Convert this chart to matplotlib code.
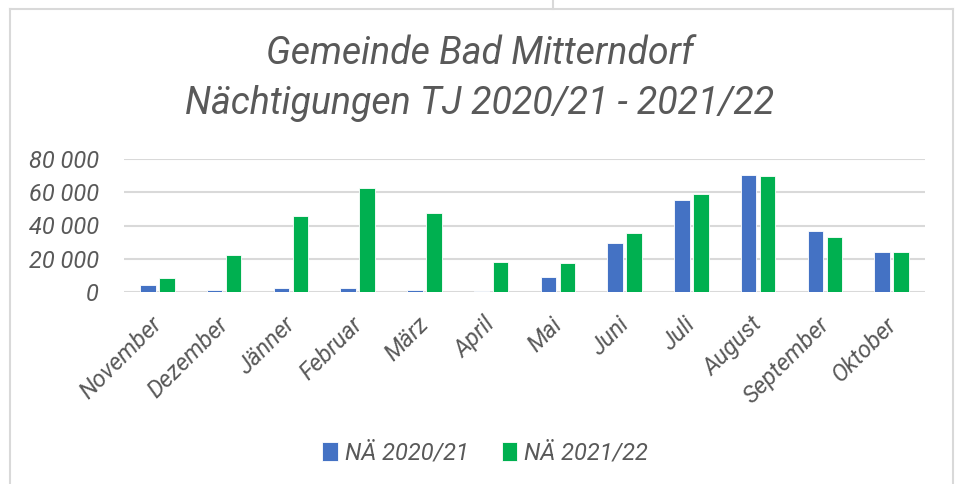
import matplotlib.pyplot as plt
import numpy as np
from matplotlib.ticker import FuncFormatter
from matplotlib.lines import Line2D
from matplotlib.transforms import ScaledTranslation

months = ["November", "Dezember", "Jänner", "Februar", "März", "April",
          "Mai", "Juni", "Juli", "August", "September", "Oktober"]
na_2020_21 = [4000, 1400, 2400, 2200, 1200, 600, 8800, 29400, 55300, 70200, 36600, 24300]
na_2021_22 = [8200, 22500, 46000, 62300, 47400, 17900, 17500, 35200, 59100, 70000, 32800, 23900]
series_names = ["NÄ 2020/21", "NÄ 2021/22"]

txt = "#595959"
plt.rcParams["font.family"] = ["Roboto", "DejaVu Sans"]
plt.rcParams["font.style"] = "italic"

fig = plt.figure(figsize=(9.6, 4.84), dpi=100)
ax = fig.add_axes([124/960, 1-292/484, (925-124)/960, (292-159)/484])

x = np.arange(len(months))
off = 0.142
w = 0.23
b1 = ax.bar(x - off, na_2020_21, w, color="#4472C4", edgecolor="white", linewidth=0.6, label=series_names[0], zorder=3)
b2 = ax.bar(x + off, na_2021_22, w, color="#00B050", edgecolor="white", linewidth=0.6, label=series_names[1], zorder=3)

ax.set_xlim(-0.5, len(months) - 0.5)
ax.set_ylim(0, 80000)
ax.set_yticks([0, 20000, 40000, 60000, 80000])
ax.yaxis.set_major_formatter(FuncFormatter(lambda v, p: f"{int(v):,}".replace(",", " ")))
ax.grid(axis="y", color="#D9D9D9", linewidth=1.5, zorder=0)
for s in ax.spines.values():
    s.set_visible(False)
ax.tick_params(length=0, colors=txt, labelsize=17)
ax.tick_params(axis="y", pad=18)
ax.tick_params(axis="x", pad=15)
ax.set_xticks(x)
ax.set_xticklabels(months, rotation=45, ha="right", rotation_mode="anchor", color=txt, fontsize=17)
shift = ScaledTranslation(-7/100, 0, fig.dpi_scale_trans)
for lbl in ax.get_xticklabels():
    lbl.set_transform(lbl.get_transform() + shift)

fig.text(0.5, 1-53/484, "Gemeinde Bad Mitterndorf", ha="center", va="center", fontsize=27, color=txt)
fig.text(0.5, 1-104/484, "Nächtigungen TJ 2020/21 - 2021/22", ha="center", va="center", fontsize=27, color=txt)

fig.legend(handles=[b1, b2], loc="center", bbox_to_anchor=(0.5 + 5/960, 1-453/484), ncol=2, frameon=False,
           fontsize=17, handlelength=0.65, handleheight=0.9, handletextpad=0.3, columnspacing=1.4,
           labelcolor=txt)

# frame around the chart
bc = "#D9D9D9"
fig.add_artist(Line2D([10/960, 953/960], [1-9/484, 1-9/484], color=bc, lw=1.5))
fig.add_artist(Line2D([10/960, 10/960], [1-9/484, 0], color=bc, lw=1.5))
fig.add_artist(Line2D([953/960, 953/960], [1-9/484, 0], color=bc, lw=1.5))
fig.add_artist(Line2D([553/960, 553/960], [1, 1-9/484], color=bc, lw=1.5))

fig.savefig("out.png", dpi=100)
